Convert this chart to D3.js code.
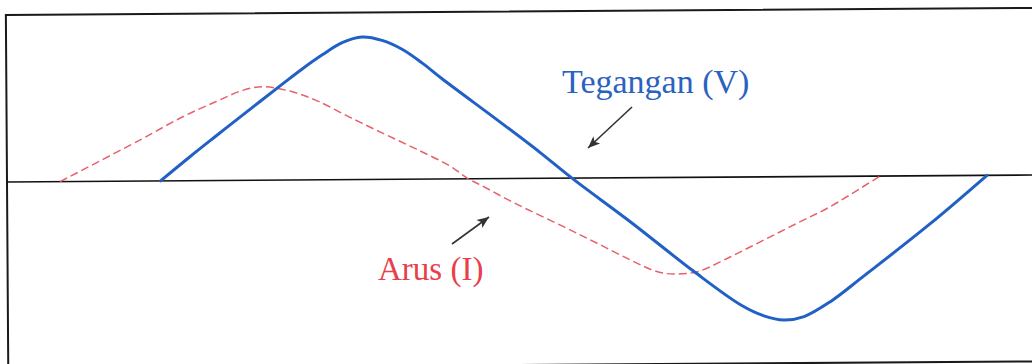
<!DOCTYPE html>
<html>
<head>
<meta charset="utf-8">
<script src="https://cdn.jsdelivr.net/npm/d3@7"></script>
<style>
  html, body { margin: 0; padding: 0; background: #fff; }
  svg { display: block; }
</style>
</head>
<body>
<svg id="chart" width="1032" height="364"></svg>
<script>
// Phase angle (degrees) and instantaneous voltage
const voltagePhase = [0, 12.9, 24.6, 34.7, 53.4, 62.1, 70.9, 79.6, 88.3, 97.0, 105.7, 114.5, 123.2, 148.0, 165.5, 179.4, 204.7, 232.2, 252.7, 262.7, 271.4, 280.2, 291.9, 306.3, 335.5, 360.4];
const voltageValue = [0, 24, 45, 63, 96, 111, 125, 137, 142.5, 139, 130, 116, 100, 57, 26, 0, -44, -94, -128, -139, -143.3, -140, -125, -100, -48, 0];

// Phase angle (degrees) and instantaneous current
const currentPhase = [-43.8, -8.9, 9.9, 24.5, 36.1, 44.8, 56.5, 68.1, 82.6, 97.2, 111.7, 126.2, 134.2, 139.3, 153.8, 175.6, 190.2, 204.7, 216.4, 223.6, 233.8, 248.3, 262.9, 277.4, 291.9, 313.7];
const currentValue = [0, 41, 64, 79, 90, 93.5, 89, 79.5, 62.5, 46, 30, 13, 0, -6, -24, -48.5, -65.3, -82.3, -94.2, -96.6, -94.4, -79.7, -63.2, -46.7, -30.3, 0];

const labels = { voltage: "Tegangan (V)", current: "Arus (I)" };

const W = 1032, H = 364;
const axisY = 182;
const tilt = -0.388; // degrees, the whole drawing sits slightly rotated

const svg = d3.select("#chart");

const x = d3.scaleLinear().domain([-70, 380]).range([0, W]);
const y = d3.scaleLinear().domain([-150, 150]).range([axisY + 150, axisY - 150]);

const g = svg.append("g").attr("transform", `rotate(${tilt}, 0, ${axisY})`);

// frame
g.append("rect")
  .attr("x", 7).attr("y", 15)
  .attr("width", 1100).attr("height", 353.5)
  .attr("fill", "none")
  .attr("stroke", "#1a1a1a")
  .attr("stroke-width", 2);

// horizontal time axis
g.append("line")
  .attr("x1", 7).attr("x2", W + 20)
  .attr("y1", y(0)).attr("y2", y(0))
  .attr("stroke", "#111")
  .attr("stroke-width", 1.6);

const line = d3.line()
  .x(d => x(d[0]))
  .y(d => y(d[1]))
  .curve(d3.curveCatmullRom.alpha(0.5));

// current (dashed)
g.append("path")
  .datum(d3.zip(currentPhase, currentValue))
  .attr("d", line)
  .attr("fill", "none")
  .attr("stroke", "#e8606a")
  .attr("stroke-width", 1.5)
  .attr("stroke-dasharray", "8,4");

// voltage
g.append("path")
  .datum(d3.zip(voltagePhase, voltageValue))
  .attr("d", line)
  .attr("fill", "none")
  .attr("stroke", "#2160c4")
  .attr("stroke-width", 3)
  .attr("stroke-linecap", "round");

// arrowhead marker
svg.append("defs").append("marker")
  .attr("id", "head")
  .attr("viewBox", "0 0 12 10")
  .attr("refX", 12).attr("refY", 5)
  .attr("markerUnits", "userSpaceOnUse")
  .attr("markerWidth", 14).attr("markerHeight", 10)
  .attr("orient", "auto")
  .append("path")
  .attr("d", "M0,0 L12,5 L0,10 L3,5 Z")
  .attr("fill", "#333");

const arrows = [
  { from: [632, 107], to: [588, 148] },
  { from: [452, 244], to: [489, 217] }
];
svg.selectAll("line.arrow")
  .data(arrows)
  .join("line")
  .attr("class", "arrow")
  .attr("x1", d => d.from[0]).attr("y1", d => d.from[1])
  .attr("x2", d => d.to[0]).attr("y2", d => d.to[1])
  .attr("stroke", "#333")
  .attr("stroke-width", 1.6)
  .attr("marker-end", "url(#head)");

svg.append("text")
  .attr("x", 562).attr("y", 93)
  .attr("font-family", "'Liberation Serif', 'Times New Roman', serif")
  .attr("font-size", 34)
  .attr("fill", "#2a62c0")
  .text(labels.voltage);

svg.append("text")
  .attr("x", 378).attr("y", 280)
  .attr("font-family", "'Liberation Serif', 'Times New Roman', serif")
  .attr("font-size", 33)
  .attr("fill", "#e8404a")
  .text(labels.current);
</script>
</body>
</html>
